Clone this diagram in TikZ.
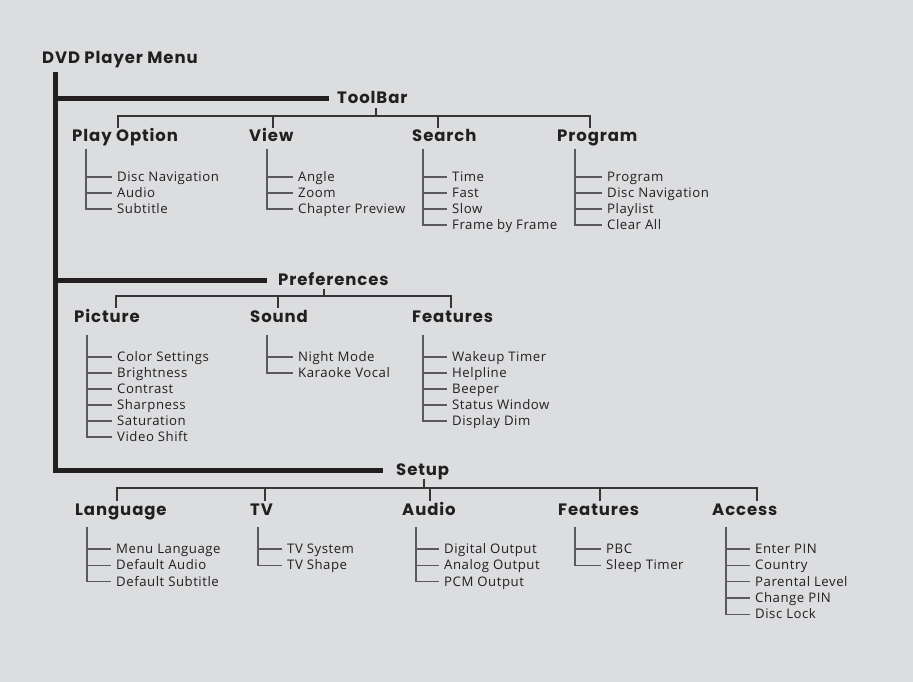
\documentclass[tikz,border=0pt]{standalone}
\usepackage{fontspec}
\setmainfont{Open Sans}[LetterSpace=4]
\newfontfamily\headfont{Poppins}[LetterSpace=5.5]
\usetikzlibrary{calc}
\definecolor{bg}{RGB}{220,221,223}
\definecolor{ink}{RGB}{35,31,32}
\definecolor{twig}{RGB}{90,90,92}
\tikzset{
  head/.style={anchor=west,inner sep=0pt,font=\headfont\bfseries\fontsize{16.5}{16.5}\selectfont,text=ink,text height=14pt,text depth=4pt},
  leaf/.style={anchor=west,inner sep=0pt,font=\fontsize{13.2}{13.2}\selectfont,text=ink,text height=10pt,text depth=1pt},
  trunk/.style={draw=ink,line width=5pt,line join=miter},
  bus/.style={draw=ink!90,line width=1.4pt},
  branch/.style={draw=twig,line width=1.2pt}
}
\newcommand\leaves[7]{%
  \coordinate (#1top) at (#5,#6);
  \foreach \t [count=\i] in {#7} {
    \node[leaf] (#1\i) at (#2,{#3+#4*(\i-1)}) {\t};
    \draw[branch] (#1top) -- (#1top |- #1\i.west) -- ([xshift=-5pt]#1\i.west);
  }
}
\begin{document}
\begin{tikzpicture}[x=1pt,y=-1pt]
\fill[bg] (0,0) rectangle (913,682);
\useasboundingbox (0,0) rectangle (913,682);

% title and trunk
\node[head] (menu) at (42,59) {DVD Player Menu};
\coordinate (trunktop) at (55,72);
\node[head] (toolbar) at (337,99) {ToolBar};
\node[head] (prefs) at (278,280) {Preferences};
\node[head] (setup) at (396,470) {Setup};
\draw[trunk] (trunktop) -- (trunktop |- setup.west) -- ([xshift=-13pt]setup.west);
\draw[trunk] (trunktop |- toolbar.west) -- ([xshift=-8pt]toolbar.west);
\draw[trunk] (trunktop |- prefs.west) -- ([xshift=-11pt]prefs.west);

% ===== ToolBar =====
\node[head] (playopt) at (72,137) {Play Option};
\node[head] (view) at (249,137) {View};
\node[head] (search) at (412,137) {Search};
\node[head] (program) at (557,137) {Program};
\coordinate (tbx) at (376,116);
\coordinate (tb1) at (118,116);
\coordinate (tb2) at (273,116);
\coordinate (tb3) at (438,116);
\coordinate (tb4) at (590,116);
\draw[bus] (toolbar.south -| tbx) -- (tbx);
\draw[bus] (tb1 |- playopt.north) -- (tb1) -- (tb4) -- (tb4 |- program.north);
\draw[bus] (tb2) -- (tb2 |- view.north);
\draw[bus] (tb3) -- (tb3 |- search.north);
\leaves{po}{117}{177}{16}{86}{149}{Disc Navigation,Audio,Subtitle}
\leaves{vw}{298}{177}{16}{267}{149}{Angle,Zoom,Chapter Preview}
\leaves{se}{452}{177}{16}{423}{149}{Time,Fast,Slow,Frame by Frame}
\leaves{pg}{607}{177}{16}{575}{149}{Program,Disc Navigation,Playlist,Clear All}

% ===== Preferences =====
\node[head] (picture) at (74,317) {Picture};
\node[head] (sound) at (250,317) {Sound};
\node[head] (pfeat) at (412,317) {Features};
\coordinate (prx) at (324,296);
\coordinate (pr1) at (116,296);
\coordinate (pr2) at (278,296);
\coordinate (pr3) at (451,296);
\draw[bus] (prefs.south -| prx) -- (prx);
\draw[bus] (pr1 |- picture.north) -- (pr1) -- (pr3) -- (pr3 |- pfeat.north);
\draw[bus] (pr2) -- (pr2 |- sound.north);
\leaves{pi}{117}{357}{16}{87}{335}{Color Settings,Brightness,Contrast,Sharpness,Saturation,Video Shift}
\leaves{so}{298}{357}{16}{267}{335}{Night Mode,Karaoke Vocal}
\leaves{fe}{452}{357}{16}{423}{335}{Wakeup Timer,Helpline,Beeper,Status Window,Display Dim}

% ===== Setup =====
\node[head] (lang) at (75,510) {Language};
\node[head] (tv) at (250,510) {TV};
\node[head] (audio) at (402,510) {Audio};
\node[head] (sfeat) at (558,510) {Features};
\node[head] (access) at (712,510) {Access};
\coordinate (stx) at (424,488);
\coordinate (st1) at (117,488);
\coordinate (st2) at (265,488);
\coordinate (st3) at (430,488);
\coordinate (st4) at (600,488);
\coordinate (st5) at (757,488);
\draw[bus] (setup.south -| stx) -- (stx);
\draw[bus] (st1 |- lang.north) -- (st1) -- (st5) -- (st5 |- access.north);
\draw[bus] (st2) -- (st2 |- tv.north);
\draw[bus] (st3) -- (st3 |- audio.north);
\draw[bus] (st4) -- (st4 |- sfeat.north);
\leaves{la}{116}{549}{16.3}{87}{527}{Menu Language,Default Audio,Default Subtitle}
\leaves{tv}{287}{549}{16.3}{258}{527}{TV System,TV Shape}
\leaves{au}{444}{549}{16.3}{416}{527}{Digital Output,Analog Output,PCM Output}
\leaves{sf}{606}{549}{16.3}{575}{527}{PBC,Sleep Timer}
\leaves{ac}{755}{549}{16.3}{726}{527}{Enter PIN,Country,Parental Level,Change PIN,Disc Lock}
\end{tikzpicture}
\end{document}
